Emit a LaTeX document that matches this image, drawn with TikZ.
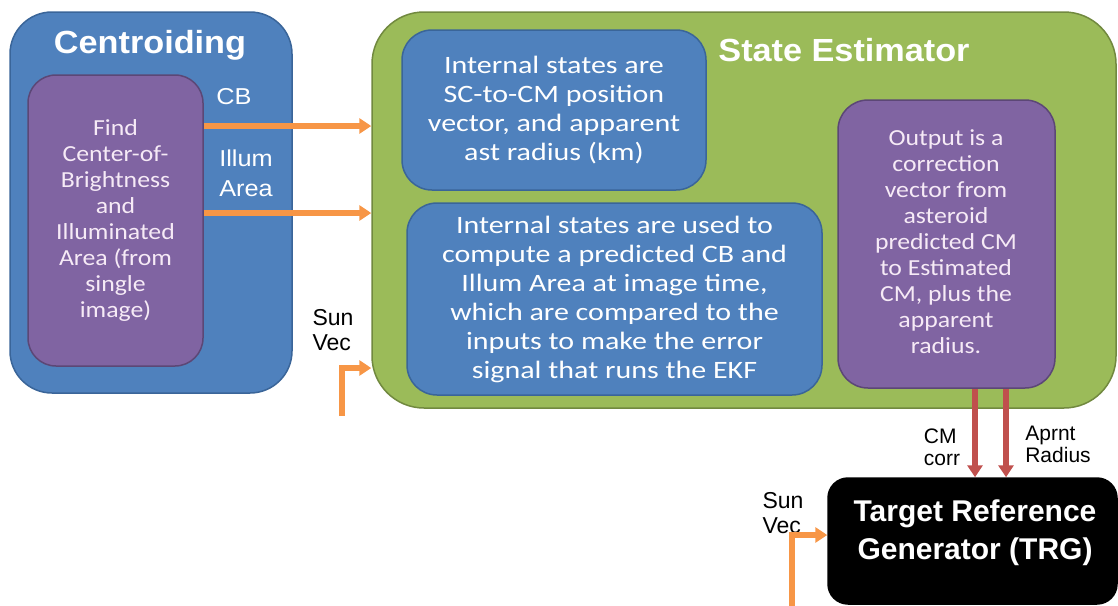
\documentclass[tikz,border=0pt]{standalone}
\usepackage{fontspec}
\setmainfont{Carlito}
\newfontfamily\calblue[FakeStretch=1.2]{Carlito}
\newfontfamily\calpurple[FakeStretch=1.12]{Carlito}
\newfontfamily\arialtitle[FakeStretch=1.07]{Liberation Sans}
\newfontfamily\arialw[FakeStretch=1.1]{Liberation Sans}
\newfontfamily\arial{Liberation Sans}
\usetikzlibrary{arrows.meta}
\definecolor{oblue}{HTML}{4F81BD}
\definecolor{obluedk}{HTML}{3A6599}
\definecolor{opurple}{HTML}{8064A2}
\definecolor{opurpledk}{HTML}{5C4776}
\definecolor{ogreen}{HTML}{9BBB59}
\definecolor{ogreendk}{HTML}{71893F}
\definecolor{oorange}{HTML}{F79646}
\definecolor{ored}{HTML}{C0504D}
\definecolor{ptext}{HTML}{F6EAF6}
\begin{document}
\begin{tikzpicture}[x=1pt,y=-1pt,
  panel/.style={draw, line width=1.5pt, inner sep=0pt},
  bluebox/.style={panel, fill=oblue, draw=obluedk},
  purplebox/.style={panel, fill=opurple, draw=opurpledk},
  boxtext/.style={align=center, text=white, font=\calblue\fontsize{25}{29}\selectfont},
  ptextst/.style={align=center, text=ptext, font=\calpurple\fontsize{23}{26}\selectfont},
  title/.style={text=white, font=\arialtitle\bfseries\fontsize{32}{36}\selectfont},
  wlabel/.style={text=white, align=left, font=\arialw\fontsize{23}{30}\selectfont},
  klabel/.style={text=black, align=left, font=\arial\fontsize{23}{25}\selectfont},
  slabel/.style={text=black, align=left, font=\arial\fontsize{21}{22}\selectfont},
  oarrow/.style={draw=oorange, line width=5.5pt, -{Triangle[length=12pt,width=15pt]}},
  rarrow/.style={draw=ored, line width=5.5pt, -{Triangle[length=12pt,width=15pt]}}
]
\useasboundingbox (0,0) rectangle (1118,605);
% Centroiding panel
\node[bluebox, minimum width=282pt, minimum height=381pt, rounded corners=42pt] (cent) at (151,202.5) {};
\node[title] (centtitle) at (150,45) {Centroiding};
\node[purplebox, minimum width=175pt, minimum height=291pt, rounded corners=28pt] (find) at (115.5,220.5) {};
\node[ptextst] (findtext) at (find.center) {Find\\Center-of-\\Brightness\\and\\Illuminated\\Area (from\\single\\image)};
\node[wlabel] (cb) at (234,97) {CB};
\node[wlabel] (illum) at (246,173) {Illum\\Area};
% State estimator panel
\node[panel, fill=ogreen, draw=ogreendk, minimum width=744pt, minimum height=396pt, rounded corners=52pt] (se) at (744,210) {};
\node[title] (setitle) at (844,50) {State Estimator};
\node[bluebox, minimum width=304pt, minimum height=160pt, rounded corners=30pt] (states) at (554,110) {};
\node[boxtext] (statestext) at (states.center) {Internal states are\\SC-to-CM position\\vector, and apparent\\ast radius (km)};
\node[bluebox, minimum width=415pt, minimum height=192pt, rounded corners=30pt] (ekf) at (614.5,299) {};
\node[boxtext] (ekftext) at (ekf.center) {Internal states are used to\\compute a predicted CB and\\Illum Area at image time,\\which are compared to the\\inputs to make the error\\signal that runs the EKF};
\node[purplebox, minimum width=217pt, minimum height=288pt, rounded corners=30pt] (out) at (946.5,244) {};
\node[ptextst] (outtext) at (946,242) {Output is a\\correction\\vector from\\asteroid\\predicted CM\\to Estimated\\CM, plus the\\apparent\\radius.};
% TRG
\node[panel, fill=black, draw=black, minimum width=289pt, minimum height=126pt, rounded corners=20pt] (trg) at (972.5,541) {};
\node[title, align=center, font=\arial\bfseries\fontsize{30}{38}\selectfont] (trgtext) at (975,533) {Target Reference\\Generator (TRG)};
% labels
\node[klabel] (sun1) at (333,330) {Sun\\Vec};
\node[klabel] (sun2) at (783,513) {Sun\\Vec};
\node[slabel] (cmcorr) at (942,447) {CM\\corr};
\node[slabel] (aprnt) at (1058,444) {Aprnt\\Radius};
% connectors
\coordinate (cbY) at (0,126);
\coordinate (iaY) at (0,213);
\draw[oarrow] (find.east |- cbY) -- (se.west |- cbY);
\draw[oarrow] (find.east |- iaY) -- (se.west |- iaY);
\coordinate (sv1) at (342,416);
\coordinate (sv1Y) at (0,368);
\draw[oarrow] (sv1) |- (se.west |- sv1Y);
\coordinate (sv2) at (792,606);
\coordinate (sv2Y) at (0,535);
\draw[oarrow] (sv2) |- (trg.west |- sv2Y);
\coordinate (cmX) at (975,0);
\coordinate (arX) at (1006,0);
\draw[rarrow] (out.south -| cmX) -- (trg.north -| cmX);
\draw[rarrow] (out.south -| arX) -- (trg.north -| arX);
\end{tikzpicture}
\end{document}
